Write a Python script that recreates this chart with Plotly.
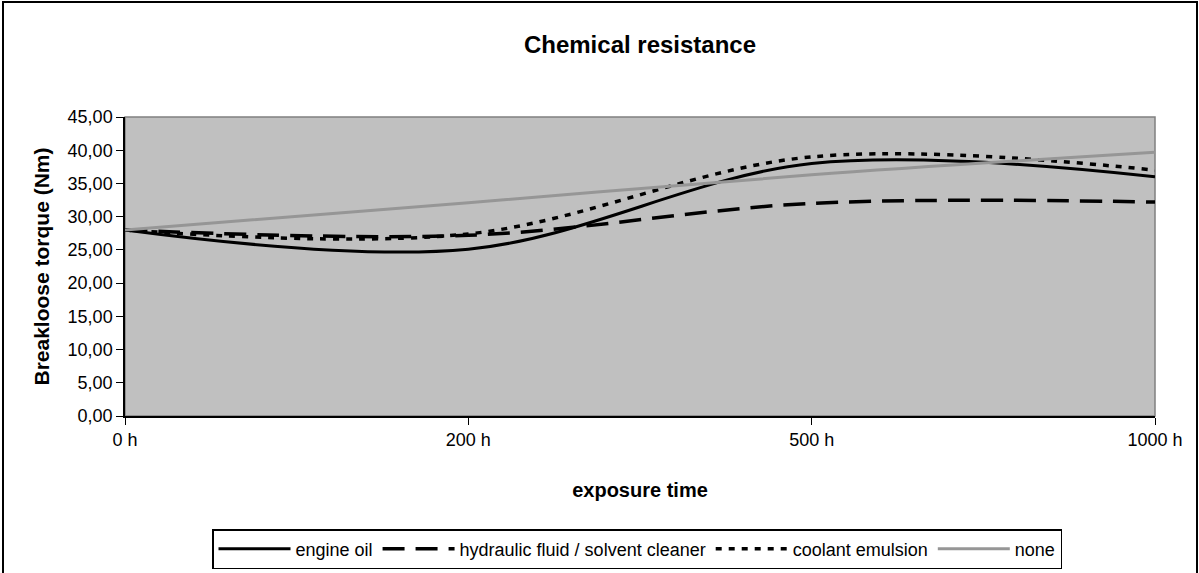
import plotly.graph_objects as go

categories = ["0 h", "200 h", "500 h", "1000 h"]
engine_oil = [28.0, 25.1, 38.0, 36.0]
hydraulic = [28.0, 27.2, 32.0, 32.2]
coolant = [28.0, 27.4, 39.0, 37.0]
none_vals = [28.0, 32.1, 36.3, 39.7]

W, H = 1199, 573
L, R, T, B = 125, 44, 117, 157
pw, ph = W - L - R, H - T - B

def px_x(px):
    return (px - L) / pw

def px_y(py):
    return (H - B - py) / ph

xpos = list(range(len(categories)))
font = "Liberation Sans, Arial, sans-serif"

fig = go.Figure()
series = [
    ("engine oil", engine_oil, dict(color="black", width=3, dash="solid")),
    ("hydraulic fluid / solvent cleaner", hydraulic, dict(color="black", width=3.5, dash="22px,11px")),
    ("coolant emulsion", coolant, dict(color="black", width=3.5, dash="6px,7px")),
    ("none", none_vals, dict(color="#969696", width=3, dash="solid")),
]
for name, vals, line in series:
    fig.add_trace(go.Scatter(
        x=xpos, y=vals, name=name, mode="lines",
        line=dict(shape="spline", smoothing=1, **line),
    ))

fig.update_layout(
    width=W, height=H,
    margin=dict(l=L, r=R, t=T, b=B, autoexpand=False),
    paper_bgcolor="white",
    plot_bgcolor="#C0C0C0",
    separators=",.",
    font=dict(family=font, size=18, color="black"),
    title=dict(text="<b>Chemical resistance</b>", x=0.5, xref="paper",
               xanchor="center", y=1 - 45 / H, yanchor="middle",
               font=dict(size=24, family=font)),
    showlegend=True,
    legend=dict(orientation="h", x=px_x(637), xanchor="center",
                y=px_y(529), yanchor="top",
                bordercolor="black", borderwidth=1.5, bgcolor="white",
                font=dict(size=18, family=font), itemwidth=72,
                tracegroupgap=0),
    xaxis=dict(
        range=[0, 3], tickvals=xpos, ticktext=categories,
        showgrid=False, zeroline=False, showline=True, linecolor="black",
        linewidth=1.5, ticks="outside", ticklen=7, tickcolor="black",
        tickfont=dict(size=18), title=dict(text="<b>exposure time</b>",
                                           font=dict(size=20), standoff=34),
    ),
    yaxis=dict(
        range=[0, 45], tickvals=[0, 5, 10, 15, 20, 25, 30, 35, 40, 45],
        tickformat=".2f", showgrid=False, zeroline=False, showline=True,
        linecolor="black", linewidth=1.5, ticks="outside", ticklen=7,
        tickcolor="black", tickfont=dict(size=18),
        title=dict(text="<b>Breakloose torque (Nm)</b>", font=dict(size=21),
                   standoff=12),
    ),
    shapes=[
        dict(type="rect", xref="paper", yref="paper", x0=0, x1=1, y0=0, y1=1,
             line=dict(color="#808080", width=1.5), layer="below"),
        dict(type="rect", xref="paper", yref="paper",
             x0=px_x(3), x1=px_x(1197), y0=px_y(600), y1=px_y(2),
             line=dict(color="black", width=2), layer="below"),
    ],
)

fig.write_html("out.html", config={"displayModeBar": False},
               post_script="document.body.style.margin='0';document.body.style.padding='0';")
